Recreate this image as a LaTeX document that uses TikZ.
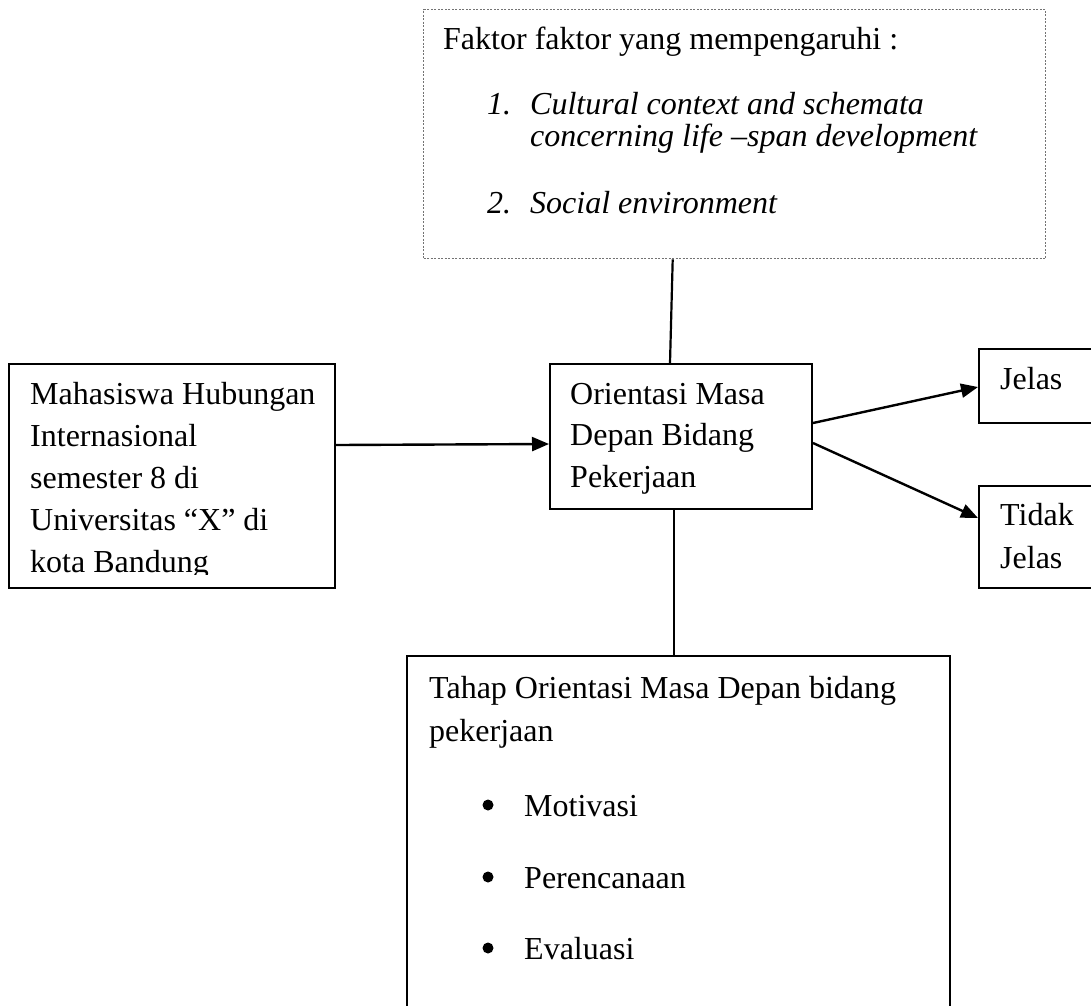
\documentclass[tikz,border=0pt]{standalone}
\usepackage{fontspec}
\setmainfont{Liberation Serif}
\usetikzlibrary{arrows.meta}
\begin{document}
\begin{tikzpicture}[x=1pt,y=-1pt,
  box/.style={draw, line width=2pt, inner sep=0pt, anchor=north west},
  dotbox/.style={draw=black!55, line width=1.4pt, dash pattern=on 2pt off 1.5pt, inner sep=0pt, anchor=north west},
  txt/.style={anchor=base west, inner sep=0pt, font=\fontsize{32}{38}\selectfont},
  itxt/.style={anchor=base west, inner sep=0pt, font=\fontsize{32}{38}\selectfont\itshape},
  bul/.style={circle, fill=black, inner sep=0pt, minimum size=11pt},
  con/.style={line width=2.2pt},
  arr/.style={line width=2.4pt, -{Triangle[length=17pt,width=14pt]}}]
\useasboundingbox (0,0) rectangle (1091,1005);

% boxes
\node[dotbox, minimum width=622pt, minimum height=249pt] (top) at (423,9) {};
\node[box, minimum width=326pt, minimum height=224pt] (left) at (8,363) {};
\node[box, minimum width=262pt, minimum height=145pt] (ori) at (549,363) {};
\node[box, minimum width=150pt, minimum height=74pt] (jel) at (978,348) {};
\node[box, minimum width=150pt, minimum height=102pt] (tid) at (978,485) {};
\node[box, minimum width=543pt, minimum height=370pt] (bot) at (406,655) {};

% top box text
\node[txt] (tf) at (443,49) {Faktor faktor yang mempengaruhi :};
\node[itxt] (tn1) at (487,114) {1.};
\node[itxt] (ta1) at (530,114) {Cultural context and schemata};
\node[itxt] (ta2) at (530,146) {concerning life –span development};
\node[itxt] (tn2) at (487,213) {2.};
\node[itxt] (tb1) at (530,213) {Social environment};

% left box text (clipped at inner margin)
\begin{scope}
\clip (0,360) rectangle (340,574);
\node[txt] (l1) at (30,404) {Mahasiswa Hubungan};
\node[txt] (l2) at (30,446) {Internasional};
\node[txt] (l3) at (30,488) {semester 8 di};
\node[txt] (l4) at (30,530) {Universitas “X” di};
\node[txt] (l5) at (30,572) {kota Bandung};
\end{scope}

% orientasi text
\node[txt] (o1) at (570,404) {Orientasi Masa};
\node[txt] (o2) at (570,445) {Depan Bidang};
\node[txt] (o3) at (570,487) {Pekerjaan};

% jelas / tidak jelas
\node[txt] (j1) at (1000,389) {Jelas};
\node[txt] (d1) at (1000,525) {Tidak};
\node[txt] (d2) at (1000,568) {Jelas};

% bottom box text
\node[txt] (b1) at (429,698) {Tahap Orientasi Masa Depan bidang};
\node[txt] (b2) at (429,741) {pekerjaan};
\node[bul] (k1) at (488,805) {};
\node[txt] (m1) at (524,816) {Motivasi};
\node[bul] (k2) at (488,877) {};
\node[txt] (m2) at (524,888) {Perencanaan};
\node[bul] (k3) at (488,948) {};
\node[txt] (m3) at (524,959) {Evaluasi};

% connectors
\draw[con] ([xshift=-62pt]top.south) -- ([xshift=-11pt]ori.north);
\draw[con] ([xshift=-7pt]ori.south) -- ([xshift=-4.5pt]bot.north);
\draw[arr] ([yshift=31pt]left.east) -- ([yshift=-7.5pt]ori.west);
\draw[arr] ([yshift=13.5pt]ori.east) -- ([yshift=-1pt]jel.west);
\draw[arr] ([yshift=-6.5pt]ori.east) -- ([yshift=19pt]tid.west);
\end{tikzpicture}
\end{document}
